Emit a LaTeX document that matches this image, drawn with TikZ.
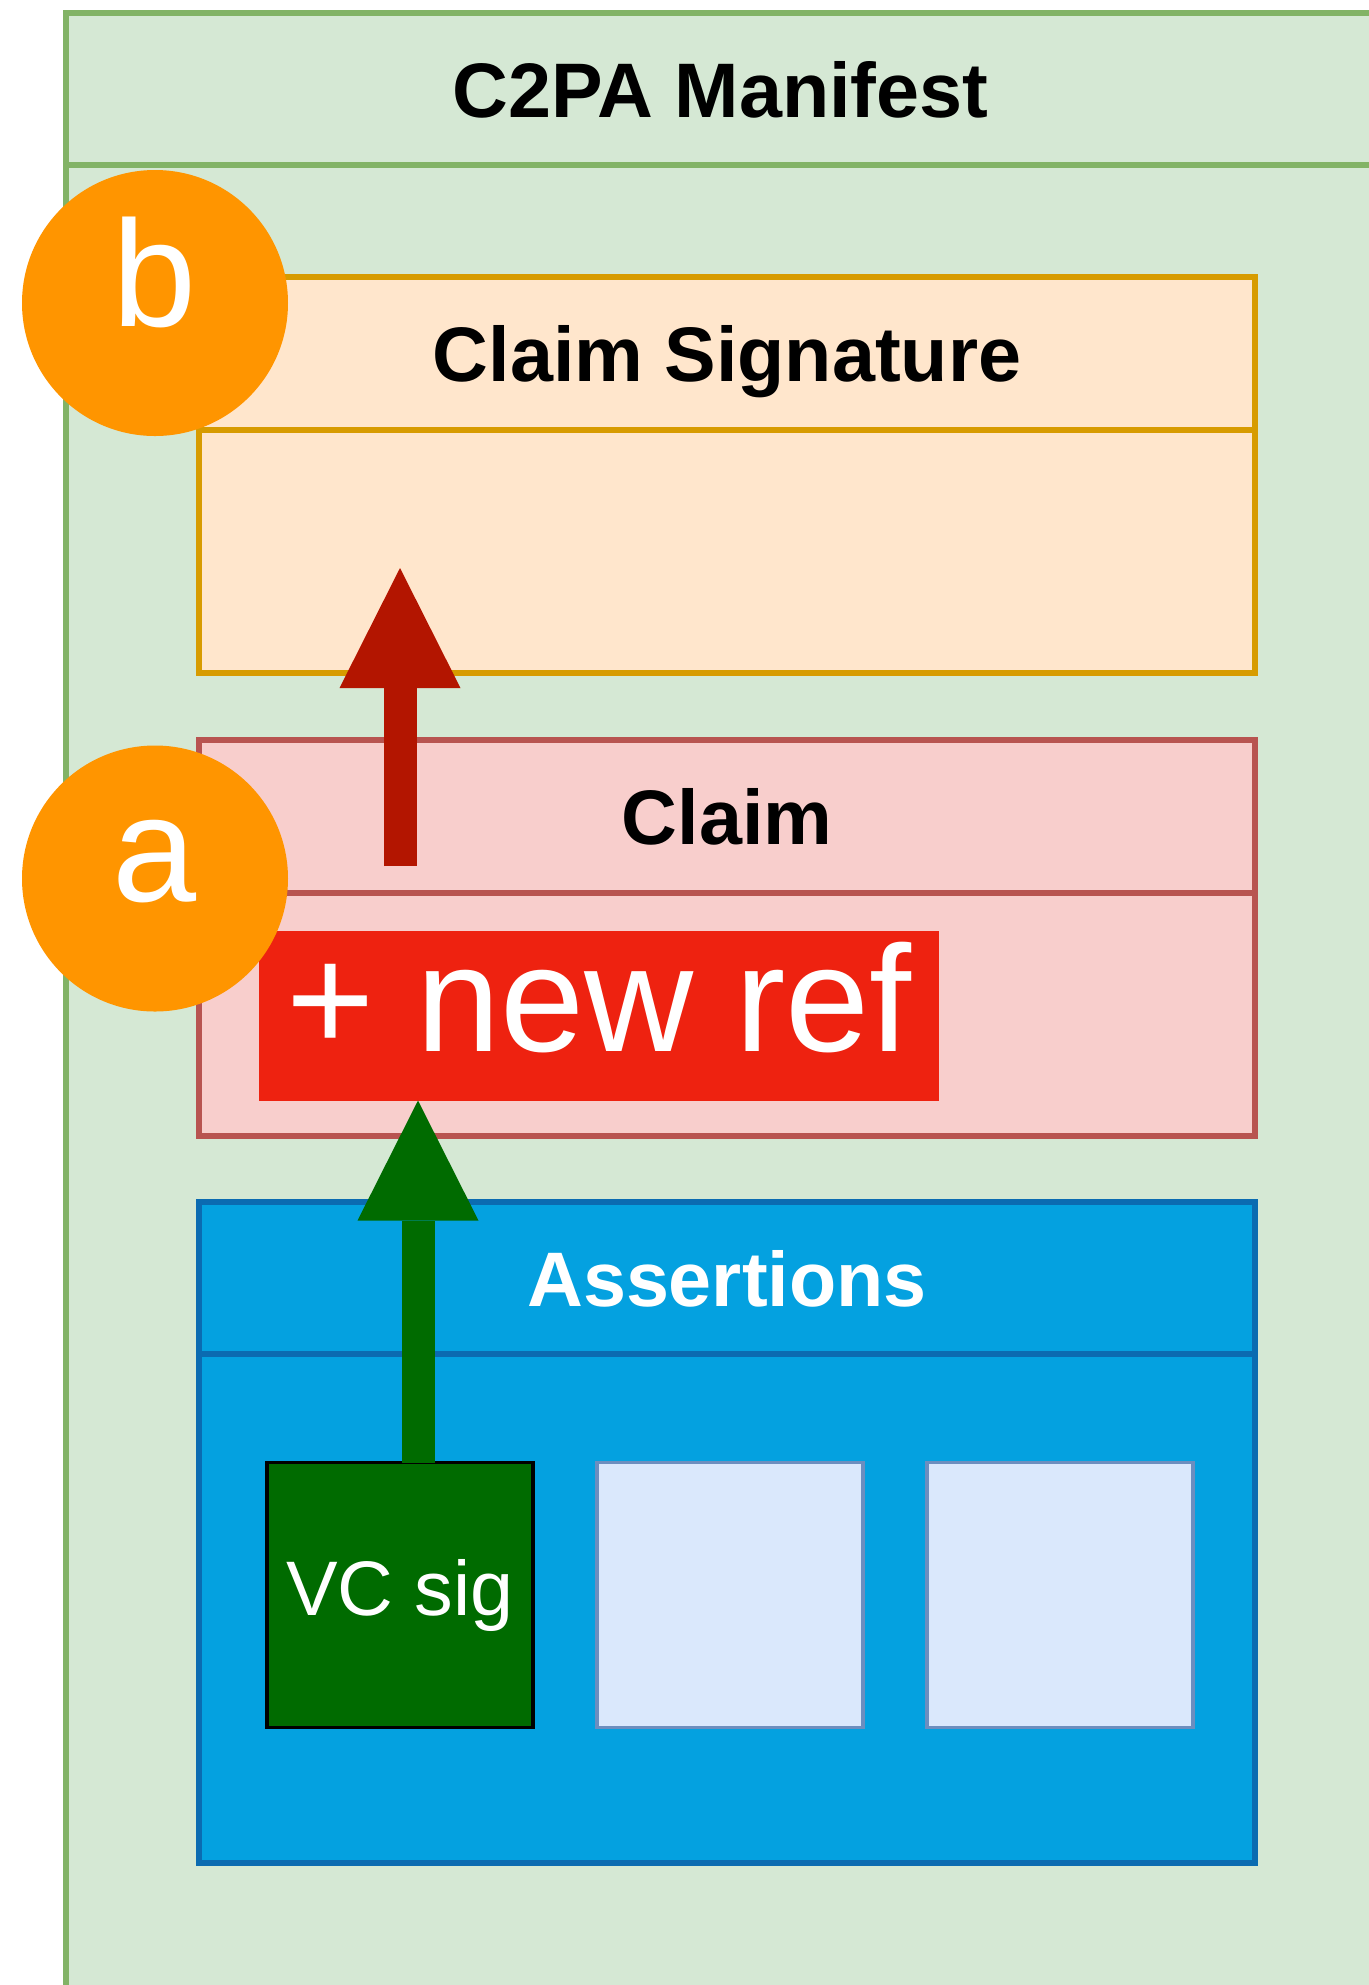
\documentclass[tikz,border=0pt]{standalone}
\usepackage{fontspec}
\setmainfont{Liberation Sans}
\usetikzlibrary{arrows.meta, positioning, calc}

\definecolor{manifestfill}{HTML}{D5E8D4}
\definecolor{manifestline}{HTML}{82B366}
\definecolor{sigfill}{HTML}{FFE6CC}
\definecolor{sigline}{HTML}{D79B00}
\definecolor{claimfill}{HTML}{F8CECC}
\definecolor{claimline}{HTML}{B85450}
\definecolor{assertfill}{HTML}{04A1E0}
\definecolor{assertline}{HTML}{0B6BB1}
\definecolor{itemfill}{HTML}{DAE8FC}
\definecolor{itemline}{HTML}{6C8EBF}
\definecolor{vcgreen}{HTML}{006B00}
\definecolor{refred}{HTML}{EE2210}
\definecolor{arrowred}{HTML}{B31500}
\definecolor{markerorange}{HTML}{FF9500}

\begin{document}
\begin{tikzpicture}[
    % Define styles
    lanehead/.style={rectangle, line width=1.6pt, outer sep=0pt, inner sep=0pt, anchor=north west, minimum width=10.56cm, minimum height=1.53cm, text height=0.56cm, text depth=0pt, font=\fontsize{22}{26}\selectfont\bfseries},
    lanebody/.style={rectangle, line width=1.6pt, outer sep=0pt, inner sep=0pt, minimum width=10.56cm},
    itembox/.style={rectangle, line width=1.1pt, outer sep=0pt, inner sep=0pt, minimum width=2.66cm, minimum height=2.65cm},
    refbox/.style={rectangle, fill=refred, outer sep=0pt, inner sep=0pt, minimum width=6.80cm, minimum height=1.70cm, text=white, text height=1.10cm, text depth=0.38cm, font=\fontsize{43}{50}\selectfont},
    marker/.style={circle, fill=markerorange, inner sep=0pt, minimum size=2.66cm, text=white, text height=1.10cm, text depth=0.64cm, font=\fontsize{43}{50}\selectfont},
    sigarrow/.style={draw=arrowred, line width=0.33cm, -{Triangle[width=1.21cm, length=1.2cm, line width=0pt]}},
    refarrow/.style={draw=vcgreen, line width=0.33cm, -{Triangle[width=1.21cm, length=1.2cm, line width=0pt]}}
  ]

  % Page frame
  \useasboundingbox (0,0) rectangle (13.69,-19.85);
  \fill[white] (0,0) rectangle (13.69,-19.85);
  \clip (0,0) rectangle (13.69,-19.85);

  % Manifest container
  \node[lanehead, draw=manifestline, fill=manifestfill, minimum width=13.09cm, minimum height=1.52cm] (manifesthead) at (0.66,-0.13) {C2PA Manifest};
  \node[lanebody, draw=manifestline, fill=manifestfill, minimum width=13.09cm, minimum height=19cm, below=0pt of manifesthead] (manifest) {};

  % Claim signature
  \node[lanehead, draw=sigline, fill=sigfill] (sighead) at (1.99,-2.77) {Claim Signature};
  \node[lanebody, draw=sigline, fill=sigfill, minimum height=2.43cm, below=0pt of sighead] (sigbody) {};

  % Claim
  \node[lanehead, draw=claimline, fill=claimfill] (claimhead) at (1.99,-7.40) {Claim};
  \node[lanebody, draw=claimline, fill=claimfill, minimum height=2.43cm, below=0pt of claimhead] (claimbody) {};

  % Assertions
  \node[lanehead, draw=assertline, fill=assertfill, text=white, minimum height=1.52cm] (asserthead) at (1.99,-12.02) {Assertions};
  \node[lanebody, draw=assertline, fill=assertfill, minimum height=5.09cm, below=0pt of asserthead] (assertbody) {};

  % Assertion items
  \node[itembox, draw=black, fill=vcgreen, text=white, font=\fontsize{22}{26}\selectfont] (vcsig) at (4.00,-15.95) {VC sig};
  \node[itembox, draw=itemline, fill=itemfill, right=0.64cm of vcsig] (item2) {};
  \node[itembox, draw=itemline, fill=itemfill, right=0.64cm of item2] (item3) {};

  % New reference in the claim
  \node[refbox] (newref) at (5.99,-10.155) {+ new ref};

  % Arrows
  \coordinate (claimtail) at (4.00,-8.66);
  \coordinate (sigtip) at (4.00,-5.68);
  \draw[sigarrow] (claimtail) -- (sigtip);
  \draw[refarrow] ([xshift=1.8mm]vcsig.north) -- ([xshift=1.8mm]vcsig.north |- newref.south);

  % Step markers
  \node[marker] (markerb) at (1.55,-3.03) {b};
  \node[marker] (markera) at (1.55,-8.785) {a};

\end{tikzpicture}
\end{document}
